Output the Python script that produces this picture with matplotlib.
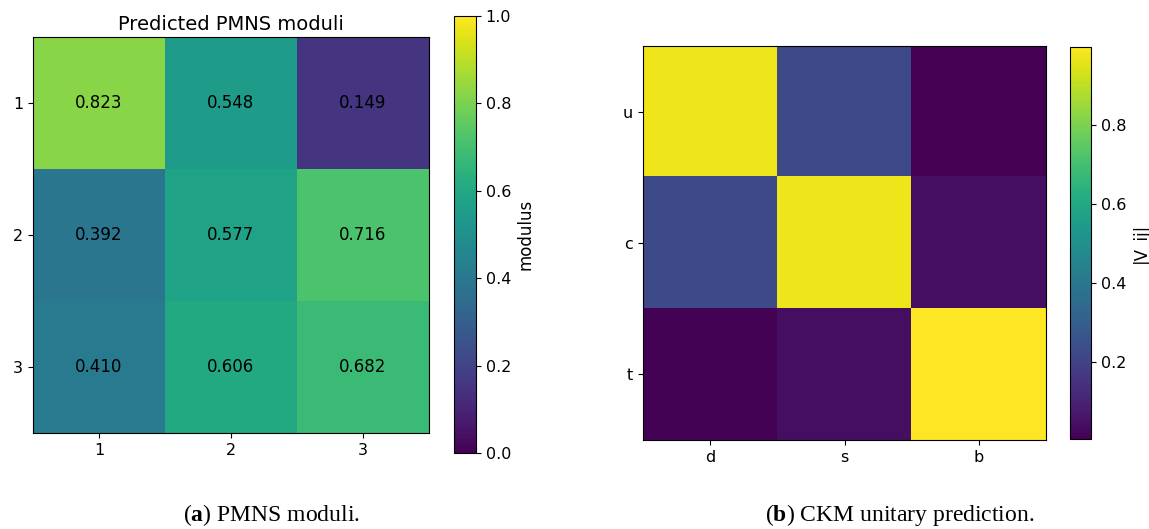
import matplotlib
matplotlib.use("Agg")
import matplotlib.pyplot as plt
import numpy as np

# PMNS moduli (rows 1..3, cols 1..3)
pmns_rows = ["1", "2", "3"]
pmns_cols = ["1", "2", "3"]
pmns = [[0.823, 0.548, 0.149],
        [0.392, 0.577, 0.716],
        [0.410, 0.606, 0.682]]

# CKM unitary prediction
ckm_rows = ["u", "c", "t"]
ckm_cols = ["d", "s", "b"]
ckm = [[0.97435, 0.22500, 0.00369],
       [0.22486, 0.97349, 0.04182],
       [0.00857, 0.04110, 0.99912]]

plt.rcParams["mathtext.fontset"] = "custom"
plt.rcParams["mathtext.rm"] = "Liberation Serif"
plt.rcParams["mathtext.bf"] = "Liberation Serif:bold"

W, H = 1149, 529
fig = plt.figure(figsize=(W / 100, H / 100), dpi=100)


def box(x0, y0, x1, y1):
    # pixel box (from top-left) -> figure fraction
    return [x0 / W, (H - y1) / H, (x1 - x0) / W, (y1 - y0) / H]


tick_fs = 11.5

# (a) PMNS
ax1 = fig.add_axes(box(33, 37, 429, 433))
im1 = ax1.imshow(np.array(pmns), cmap="viridis", vmin=0, vmax=1, aspect="auto")
ax1.set_xticks(range(3), pmns_cols)
ax1.set_yticks(range(3), pmns_rows)
ax1.tick_params(labelsize=tick_fs)
ax1.set_title("Predicted PMNS moduli", fontsize=14, pad=5)
for i in range(3):
    for j in range(3):
        ax1.text(j, i, f"{pmns[i][j]:.3f}", ha="center", va="center",
                 color="black", fontsize=12)
cax1 = fig.add_axes(box(454, 16, 476, 453))
cb1 = fig.colorbar(im1, cax=cax1)
cb1.ax.tick_params(labelsize=tick_fs)
cb1.set_label("modulus", fontsize=12)

# (b) CKM
ax2 = fig.add_axes(box(643, 46, 1046, 440))
im2 = ax2.imshow(np.array(ckm), cmap="viridis", aspect="auto")
ax2.set_xticks(range(3), ckm_cols)
ax2.set_yticks(range(3), ckm_rows)
ax2.tick_params(labelsize=tick_fs)
cax2 = fig.add_axes(box(1070, 47, 1091, 439))
cb2 = fig.colorbar(im2, cax=cax2)
cb2.ax.tick_params(labelsize=tick_fs)
cb2.set_label("|V_ij|", fontsize=12)

# captions
cap = dict(fontsize=17, family="Liberation Serif", ha="center", va="center")
fig.text(271 / W, 1 - 515 / H, r"($\mathbf{a}$) PMNS moduli.", **cap)
fig.text(900 / W, 1 - 515 / H, r"($\mathbf{b}$) CKM unitary prediction.", **cap)

fig.savefig("out.png", dpi=100)
